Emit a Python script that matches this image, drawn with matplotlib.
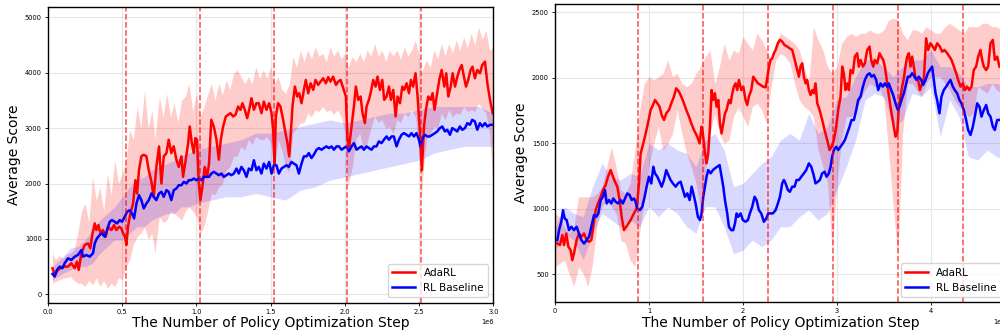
import numpy as np
import matplotlib
matplotlib.use("Agg")
import matplotlib.pyplot as plt

# -----------------------------
# Left panel data (x in millions of steps)
# -----------------------------
left_ada_x = [0.03, 0.045, 0.067, 0.10, 0.135, 0.157, 0.18, 0.195, 0.207, 0.225, 0.247, 0.27, 0.285, 0.30,
              0.315, 0.326, 0.34, 0.353, 0.37, 0.389, 0.404, 0.427, 0.445, 0.46, 0.479, 0.494, 0.506, 0.519,
              0.528, 0.539, 0.555, 0.573, 0.589, 0.60, 0.613, 0.629, 0.645, 0.663, 0.679, 0.697, 0.712, 0.73,
              0.748, 0.764, 0.78, 0.798, 0.813, 0.831, 0.847, 0.865, 0.881, 0.899, 0.91, 0.928, 0.944, 0.955,
              0.969, 0.982, 0.993, 1.004, 1.016, 1.027, 1.04, 1.056, 1.072, 1.085, 1.10, 1.117, 1.135, 1.151,
              1.164, 1.18, 1.198, 1.213, 1.229, 1.247, 1.263, 1.281, 1.297, 1.31, 1.326, 1.342, 1.355, 1.371,
              1.387, 1.404, 1.42, 1.438, 1.454, 1.472, 1.49, 1.506, 1.517, 1.526, 1.535, 1.55, 1.566, 1.584,
              1.60, 1.613, 1.625, 1.636, 1.647, 1.663, 1.679, 1.692, 1.708, 1.724, 1.737, 1.753, 1.769, 1.787,
              1.802, 1.82, 1.836, 1.854, 1.872, 1.888, 1.903, 1.921, 1.94, 1.955, 1.971, 1.989, 2.007, 2.018,
              2.029, 2.045, 2.061, 2.074, 2.09, 2.106, 2.119, 2.135, 2.146, 2.162, 2.178, 2.191, 2.207, 2.22,
              2.236, 2.252, 2.265, 2.281, 2.297, 2.31, 2.326, 2.342, 2.355, 2.371, 2.387, 2.40, 2.416, 2.432,
              2.445, 2.46, 2.476, 2.49, 2.506, 2.519, 2.533, 2.546, 2.562, 2.578, 2.591, 2.604, 2.618, 2.636,
              2.652, 2.67, 2.683, 2.697, 2.713, 2.726, 2.742, 2.758, 2.771, 2.787, 2.802, 2.816, 2.831, 2.847,
              2.86, 2.876, 2.892, 2.91, 2.926, 2.944, 2.96, 2.978, 2.996]
left_ada_y = [470, 350, 440, 500, 500, 560, 470, 590, 440, 740, 890, 920, 830, 1100,
              1280, 1160, 1250, 1100, 1160, 1040, 1220, 1160, 1250, 1160, 1220, 1190, 1100, 1040,
              890, 1220, 1460, 1640, 2060, 1820, 2240, 2490, 2520, 2490, 2240, 2030, 1760, 2300,
              2670, 2000, 2490, 2550, 2790, 2550, 2670, 2430, 2300, 2490, 2120, 2430, 2730, 3030,
              2730, 2550, 2820, 2790, 2000, 1700, 1940, 2300, 2120, 2360, 3150, 3030, 2790, 2430,
              2790, 3030, 3210, 3240, 3270, 3210, 3240, 3390, 3330, 3450, 3330, 3180, 3330, 3540,
              3330, 3450, 3450, 3270, 3480, 3330, 3450, 3270, 2970, 2360, 3210, 3450, 3390, 3150,
              2910, 2730, 2490, 2910, 3390, 3750, 3570, 3630, 3450, 3690, 3870, 3630, 3810, 3690,
              3870, 3780, 3840, 3900, 3810, 3920, 3840, 3930, 3780, 3840, 3870, 3720, 3570, 2790,
              2670, 3030, 3390, 3750, 3510, 3570, 3270, 3090, 3390, 3510, 3690, 3870, 3750, 3930,
              3690, 3870, 3510, 3570, 3750, 3510, 3690, 3210, 3570, 3450, 3750, 3690, 3810, 3630,
              3870, 3750, 3990, 3570, 2910, 2240, 3030, 3330, 3570, 3510, 3630, 3330, 3570, 3870,
              4050, 3750, 3990, 3570, 3750, 3990, 3750, 3930, 4050, 4140, 3930, 3750, 3870, 4050,
              4110, 3900, 4050, 3990, 4140, 4200, 3810, 3510, 3270]

left_base_x = [0.03, 0.045, 0.06, 0.079, 0.097, 0.112, 0.135, 0.157, 0.18, 0.202, 0.225, 0.236, 0.258, 0.281,
               0.303, 0.315, 0.33, 0.348, 0.364, 0.382, 0.398, 0.416, 0.431, 0.449, 0.465, 0.483, 0.499, 0.517,
               0.533, 0.551, 0.566, 0.58, 0.596, 0.613, 0.629, 0.645, 0.663, 0.679, 0.697, 0.712, 0.73, 0.748,
               0.764, 0.78, 0.798, 0.813, 0.831, 0.847, 0.865, 0.881, 0.899, 0.915, 0.933, 0.948, 0.966, 0.982,
               1.0, 1.016, 1.034, 1.049, 1.067, 1.085, 1.10, 1.117, 1.135, 1.151, 1.169, 1.184, 1.202, 1.218,
               1.236, 1.252, 1.27, 1.285, 1.303, 1.319, 1.337, 1.353, 1.371, 1.387, 1.404, 1.42, 1.438, 1.454,
               1.472, 1.49, 1.506, 1.521, 1.539, 1.555, 1.573, 1.589, 1.607, 1.622, 1.64, 1.656, 1.674, 1.69,
               1.708, 1.724, 1.742, 1.757, 1.775, 1.791, 1.809, 1.825, 1.843, 1.858, 1.876, 1.892, 1.91, 1.926,
               1.944, 1.96, 1.978, 1.993, 2.011, 2.027, 2.045, 2.061, 2.079, 2.094, 2.112, 2.128, 2.146, 2.162,
               2.18, 2.196, 2.213, 2.229, 2.247, 2.263, 2.281, 2.297, 2.315, 2.33, 2.348, 2.364, 2.382, 2.398,
               2.416, 2.432, 2.449, 2.465, 2.483, 2.499, 2.51, 2.524, 2.539, 2.555, 2.573, 2.589, 2.607, 2.622,
               2.64, 2.656, 2.674, 2.69, 2.708, 2.724, 2.742, 2.757, 2.775, 2.791, 2.809, 2.825, 2.843, 2.858,
               2.876, 2.892, 2.91, 2.926, 2.944, 2.96, 2.978, 2.996]
left_base_y = [367, 320, 440, 500, 470, 560, 650, 620, 680, 710, 800, 680, 710, 680,
               740, 920, 1010, 1070, 1100, 1040, 1160, 1310, 1340, 1310, 1280, 1340, 1310, 1400,
               1490, 1520, 1460, 1370, 1640, 1790, 1700, 1550, 1640, 1700, 1820, 1760, 1700, 1820,
               1850, 1760, 1880, 1850, 1700, 1880, 1910, 1970, 1970, 2030, 2000, 2060, 2060, 2090,
               2060, 2090, 2060, 2120, 2120, 2120, 2180, 2210, 2180, 2150, 2180, 2120, 2150, 2180,
               2150, 2180, 2270, 2180, 2300, 2240, 2120, 2270, 2240, 2420, 2240, 2300, 2180, 2360,
               2270, 2390, 2180, 2330, 2330, 2180, 2270, 2300, 2330, 2300, 2390, 2360, 2330, 2180,
               2360, 2490, 2490, 2550, 2460, 2520, 2610, 2640, 2610, 2640, 2670, 2640, 2670, 2610,
               2670, 2670, 2610, 2640, 2670, 2580, 2670, 2730, 2610, 2640, 2670, 2610, 2670, 2640,
               2610, 2670, 2670, 2760, 2730, 2790, 2850, 2790, 2850, 2850, 2670, 2790, 2880, 2910,
               2880, 2850, 2910, 2850, 2910, 2790, 2670, 2820, 2880, 2850, 2850, 2880, 2910, 2940,
               3000, 3030, 2940, 2970, 2880, 3000, 2970, 2940, 3030, 2970, 3000, 3090, 3060, 3150,
               3120, 2970, 3090, 3030, 3090, 3030, 3060, 3060]

left_ada_band_x = [0.03, 0.05, 0.075, 0.10, 0.125, 0.15, 0.175, 0.20, 0.225, 0.25, 0.275, 0.30, 0.325, 0.35,
                   0.375, 0.40, 0.425, 0.45, 0.475, 0.50, 0.525, 0.55, 0.575, 0.60, 0.625, 0.65, 0.675, 0.70,
                   0.72, 0.75, 0.775, 0.80, 0.825, 0.85, 0.875, 0.90, 0.925, 0.95, 0.975, 1.00, 1.025, 1.05,
                   1.075, 1.10, 1.125, 1.15, 1.175, 1.20, 1.225, 1.25, 1.275, 1.30, 1.325, 1.35, 1.375, 1.40,
                   1.425, 1.45, 1.475, 1.50, 1.525, 1.55, 1.575, 1.60, 1.625, 1.65, 1.675, 1.70, 1.725, 1.75,
                   1.775, 1.80, 1.825, 1.85, 1.875, 1.90, 1.925, 1.95, 1.975, 2.00, 2.02, 2.05, 2.075, 2.10,
                   2.125, 2.15, 2.175, 2.20, 2.225, 2.25, 2.275, 2.30, 2.325, 2.35, 2.375, 2.40, 2.425, 2.45,
                   2.475, 2.50, 2.515, 2.53, 2.55, 2.575, 2.60, 2.625, 2.65, 2.675, 2.70, 2.725, 2.75, 2.775,
                   2.80, 2.825, 2.85, 2.875, 2.90, 2.925, 2.95, 2.975, 3.00]
left_ada_hi = [740, 620, 700, 650, 720, 740, 800, 1100, 1500, 1640, 1300, 2120, 1700, 1940,
               1500, 2180, 1800, 2420, 2000, 2180, 2400, 2970, 2800, 3390, 3000, 3690, 3000, 3330,
               2800, 3570, 3200, 3630, 3200, 3450, 3100, 3510, 3570, 3810, 3300, 3630, 3200, 3390,
               3600, 3810, 3500, 3810, 3600, 3870, 3700, 3990, 4050, 3930, 3800, 3930, 3800, 4110,
               3900, 4050, 3900, 4110, 3800, 3930, 3700, 3630, 3800, 4290, 4100, 4410, 4200, 4410,
               4250, 4470, 4300, 4350, 4200, 4470, 4300, 4410, 4250, 4350, 4100, 4290, 4200, 4350,
               4200, 4410, 4300, 4530, 4300, 4410, 4200, 4410, 4300, 4410, 4250, 4470, 4300, 4410,
               4590, 4300, 4000, 4100, 4230, 4100, 4410, 4250, 4530, 4300, 4530, 4350, 4590, 4400,
               4650, 4450, 4710, 4500, 4830, 4600, 4770, 4400, 4470]
left_ada_lo = [200, 230, 260, 290, 300, 320, 250, 200, 200, 140, 250, 170, 300, 140,
               250, 110, 200, 140, 300, 260, 500, 620, 900, 1040, 1100, 1220, 1000, 1100,
               740, 1400, 1300, 1340, 1500, 1460, 1400, 1340, 1500, 1580, 1500, 1400, 1100, 1220,
               1500, 1820, 1800, 1940, 2000, 2240, 2300, 2490, 2500, 2670, 2600, 2790, 2700, 2850,
               2800, 2790, 2850, 2730, 2240, 2790, 2600, 2300, 2200, 2910, 3000, 3090, 3100, 3270,
               3200, 3330, 3300, 3390, 3300, 3330, 3250, 3330, 3200, 2910, 1940, 2300, 2800, 2910,
               2600, 2730, 3000, 3210, 3100, 3150, 3000, 3030, 2900, 3150, 3100, 3270, 3200, 3330,
               3200, 2500, 1700, 2300, 2790, 2900, 3030, 3000, 3270, 3150, 3330, 3200, 3270, 3250,
               3390, 3300, 3330, 3300, 3450, 3350, 3270, 2900, 1880]

left_base_band_x = [0.03, 0.10, 0.15, 0.20, 0.25, 0.30, 0.35, 0.40, 0.45, 0.50, 0.55, 0.60, 0.65, 0.70, 0.75,
                    0.80, 0.85, 0.90, 0.95, 1.00, 1.10, 1.20, 1.30, 1.40, 1.50, 1.60, 1.70, 1.80, 1.90, 2.00,
                    2.10, 2.20, 2.30, 2.40, 2.50, 2.60, 2.70, 2.80, 2.90, 3.00]
left_base_hi = [500, 680, 830, 860, 980, 1160, 1340, 1460, 1580, 1760, 1940, 2060, 2120, 2240, 2300,
                2360, 2420, 2490, 2550, 2610, 2670, 2730, 2790, 2910, 2910, 2970, 3030, 3090, 3150, 3090,
                3150, 3210, 3270, 3270, 3330, 3390, 3390, 3390, 3390, 3270]
left_base_lo = [260, 380, 440, 500, 500, 560, 740, 860, 980, 980, 1100, 1220, 1220, 1340, 1400,
                1460, 1460, 1580, 1580, 1640, 1700, 1760, 1760, 1820, 1760, 1700, 1880, 1940, 2060, 2120,
                2180, 2240, 2300, 2360, 2420, 2550, 2610, 2670, 2670, 2670]

left_switch_steps = [0.528, 1.025, 1.521, 2.016, 2.51]

# -----------------------------
# Right panel data (x in millions of steps)
# -----------------------------
right_ada_x = [0.025, 0.053, 0.078, 0.096, 0.12, 0.142, 0.167, 0.184, 0.202, 0.23, 0.255, 0.28, 0.309, 0.337,
               0.362, 0.387, 0.408, 0.433, 0.457, 0.486, 0.51, 0.539, 0.564, 0.592, 0.617, 0.638, 0.663, 0.688,
               0.709, 0.734, 0.77, 0.805, 0.84, 0.869, 0.894, 0.911, 0.94, 0.965, 0.989, 1.018, 1.043, 1.064,
               1.089, 1.113, 1.135, 1.16, 1.184, 1.213, 1.238, 1.266, 1.29, 1.319, 1.344, 1.372, 1.397, 1.426,
               1.45, 1.479, 1.514, 1.539, 1.56, 1.574, 1.592, 1.613, 1.631, 1.649, 1.667, 1.684, 1.702, 1.72,
               1.738, 1.755, 1.773, 1.791, 1.809, 1.826, 1.851, 1.869, 1.887, 1.904, 1.922, 1.94, 1.957, 1.982,
               2.004, 2.028, 2.046, 2.064, 2.089, 2.11, 2.135, 2.16, 2.188, 2.213, 2.241, 2.259, 2.277, 2.294,
               2.312, 2.33, 2.348, 2.372, 2.394, 2.418, 2.443, 2.472, 2.496, 2.525, 2.543, 2.56, 2.578, 2.596,
               2.613, 2.631, 2.649, 2.667, 2.684, 2.702, 2.72, 2.738, 2.755, 2.773, 2.791, 2.816, 2.844, 2.869,
               2.897, 2.922, 2.943, 2.968, 2.993, 3.014, 3.039, 3.057, 3.074, 3.092, 3.11, 3.128, 3.145, 3.17,
               3.191, 3.216, 3.234, 3.252, 3.277, 3.298, 3.323, 3.348, 3.365, 3.387, 3.404, 3.429, 3.454, 3.472,
               3.493, 3.511, 3.535, 3.56, 3.582, 3.606, 3.624, 3.642, 3.66, 3.677, 3.695, 3.713, 3.73, 3.748,
               3.766, 3.784, 3.801, 3.819, 3.837, 3.862, 3.883, 3.908, 3.926, 3.95, 3.972, 3.996, 4.021, 4.043,
               4.067, 4.096, 4.121, 4.145, 4.174, 4.199, 4.22, 4.245, 4.27, 4.291, 4.316, 4.34, 4.362, 4.387,
               4.411, 4.433, 4.457, 4.482, 4.504, 4.528, 4.546, 4.564, 4.589, 4.61, 4.635, 4.66, 4.681, 4.706,
               4.73, 4.78]
right_ada_y = [734, 722, 798, 722, 811, 709, 683, 607, 658, 760, 811, 785, 811, 760,
               747, 760, 862, 989, 1040, 1091, 1142, 1180, 1244, 1295, 1244, 1206, 1168, 1066,
               938, 836, 874, 913, 964, 1002, 1193, 1422, 1499, 1575, 1652, 1754, 1792, 1830,
               1805, 1779, 1715, 1677, 1728, 1754, 1805, 1856, 1919, 1894, 1856, 1805, 1754, 1703,
               1652, 1601, 1550, 1499, 1626, 1575, 1448, 1346, 1422, 1626, 1906, 1830, 1881, 1779,
               1830, 1652, 1575, 1652, 1728, 1754, 1830, 1805, 1881, 1932, 1957, 1906, 1983, 1906,
               1932, 1830, 1792, 1856, 1906, 2008, 1983, 1957, 1945, 1932, 1927, 1996, 2085, 2136,
               2149, 2187, 2212, 2263, 2289, 2276, 2250, 2238, 2225, 2212, 2161, 2110, 2059, 2008,
               2085, 2110, 2008, 1957, 1983, 1906, 1868, 1906, 1881, 1957, 1805, 1754, 1677, 1601,
               1524, 1448, 1473, 1524, 1626, 1754, 1856, 2085, 2034, 1906, 1957, 1906, 2059, 2034,
               2161, 2187, 2085, 2136, 2085, 2110, 2212, 2238, 2136, 2085, 2136, 2110, 2187, 2161,
               2136, 2085, 1957, 1830, 1728, 1626, 1550, 1575, 1779, 1856, 1932, 1996, 2085, 2161,
               2187, 2085, 2161, 2085, 1996, 1996, 1906, 1957, 1996, 2301, 2212, 2263, 2238, 2212,
               2263, 2238, 2199, 2212, 2187, 2161, 2136, 2085, 2034, 1983, 1932, 1957, 1906, 1932,
               1906, 1932, 2059, 2085, 2161, 2212, 2136, 2085, 2059, 2085, 2263, 2289, 2136, 2161,
               2085, 2060]

right_base_x = [0.025, 0.043, 0.067, 0.085, 0.103, 0.124, 0.149, 0.174, 0.202, 0.23, 0.255, 0.28, 0.309, 0.337,
                0.362, 0.387, 0.415, 0.44, 0.461, 0.486, 0.51, 0.532, 0.55, 0.574, 0.599, 0.621, 0.645, 0.67,
                0.699, 0.723, 0.745, 0.77, 0.794, 0.816, 0.84, 0.858, 0.876, 0.904, 0.929, 0.954, 0.975, 1.0,
                1.025, 1.046, 1.064, 1.089, 1.113, 1.135, 1.16, 1.184, 1.206, 1.23, 1.255, 1.284, 1.309, 1.337,
                1.362, 1.383, 1.408, 1.433, 1.454, 1.472, 1.496, 1.521, 1.543, 1.56, 1.578, 1.596, 1.613, 1.631,
                1.656, 1.681, 1.702, 1.727, 1.752, 1.773, 1.791, 1.809, 1.833, 1.851, 1.876, 1.897, 1.915, 1.933,
                1.95, 1.975, 2.0, 2.028, 2.053, 2.074, 2.099, 2.124, 2.145, 2.17, 2.195, 2.223, 2.248, 2.27,
                2.294, 2.319, 2.348, 2.372, 2.394, 2.418, 2.436, 2.454, 2.479, 2.5, 2.525, 2.55, 2.571, 2.596,
                2.621, 2.649, 2.674, 2.702, 2.727, 2.748, 2.773, 2.798, 2.819, 2.844, 2.869, 2.89, 2.915, 2.933,
                2.95, 2.968, 2.993, 3.014, 3.039, 3.064, 3.085, 3.11, 3.135, 3.156, 3.181, 3.206, 3.227, 3.252,
                3.277, 3.298, 3.323, 3.348, 3.369, 3.394, 3.418, 3.44, 3.465, 3.489, 3.511, 3.535, 3.553, 3.578,
                3.599, 3.624, 3.649, 3.667, 3.688, 3.713, 3.73, 3.755, 3.777, 3.801, 3.826, 3.847, 3.872, 3.897,
                3.918, 3.943, 3.968, 3.989, 4.014, 4.032, 4.05, 4.067, 4.092, 4.113, 4.138, 4.163, 4.184, 4.209,
                4.234, 4.255, 4.28, 4.305, 4.326, 4.351, 4.376, 4.397, 4.422, 4.447, 4.468, 4.493, 4.518, 4.539,
                4.564, 4.589, 4.61, 4.635, 4.66, 4.681, 4.706, 4.73, 4.78]
right_base_y = [760, 836, 900, 989, 925, 913, 836, 862, 836, 862, 811, 760, 734, 760,
                785, 862, 951, 938, 964, 1066, 1091, 1142, 1040, 1066, 1040, 1078, 1053, 1040,
                1066, 1040, 1078, 1117, 1104, 1066, 1078, 1053, 1002, 989, 1015, 1091, 1168, 1244,
                1193, 1320, 1270, 1244, 1206, 1168, 1219, 1295, 1257, 1219, 1193, 1168, 1193, 1206,
                1142, 1091, 1117, 1066, 1168, 1117, 1040, 938, 913, 964, 1091, 1168, 1244, 1295,
                1270, 1295, 1308, 1320, 1333, 1244, 1168, 1066, 964, 862, 836, 836, 887, 964,
                938, 964, 913, 900, 913, 964, 1015, 1091, 1066, 989, 964, 900, 925, 964,
                964, 964, 989, 1040, 1091, 1193, 1219, 1193, 1142, 1129, 1168, 1168, 1219, 1219,
                1244, 1270, 1295, 1346, 1320, 1270, 1193, 1206, 1219, 1270, 1282, 1244, 1270, 1320,
                1397, 1448, 1473, 1448, 1473, 1499, 1524, 1575, 1626, 1677, 1677, 1754, 1830, 1856,
                1932, 1983, 2021, 2034, 2008, 2021, 1983, 1906, 1957, 1932, 1957, 1932, 1957, 1906,
                1868, 1805, 1754, 1779, 1830, 1881, 1932, 2008, 2008, 2034, 2008, 1983, 2008, 1983,
                1945, 1983, 2034, 2059, 2085, 1983, 1881, 1830, 1728, 1856, 1906, 1932, 1957, 1983,
                1932, 1906, 1881, 1830, 1805, 1754, 1677, 1601, 1563, 1626, 1703, 1805, 1779, 1703,
                1754, 1792, 1728, 1703, 1626, 1601, 1677, 1677, 1700]

right_ada_band_x = [0.0, 0.05, 0.10, 0.15, 0.20, 0.25, 0.30, 0.35, 0.40, 0.45, 0.50, 0.55, 0.60, 0.65, 0.70,
                    0.75, 0.80, 0.85, 0.90, 0.95, 1.00, 1.05, 1.10, 1.15, 1.20, 1.25, 1.30, 1.35, 1.40, 1.45,
                    1.50, 1.55, 1.60, 1.65, 1.70, 1.75, 1.80, 1.85, 1.90, 1.95, 2.00, 2.05, 2.10, 2.15, 2.20,
                    2.25, 2.30, 2.35, 2.40, 2.45, 2.50, 2.55, 2.60, 2.65, 2.70, 2.75, 2.80, 2.85, 2.90, 2.95,
                    3.00, 3.05, 3.10, 3.15, 3.20, 3.25, 3.30, 3.35, 3.40, 3.45, 3.50, 3.55, 3.60, 3.65, 3.70,
                    3.75, 3.80, 3.85, 3.90, 3.95, 4.00, 4.05, 4.10, 4.15, 4.20, 4.25, 4.30, 4.35, 4.40, 4.45,
                    4.50, 4.55, 4.60, 4.65, 4.70, 4.75, 4.80]
right_ada_hi = [964, 938, 862, 811, 862, 1091, 1091, 1091, 1091, 1117, 1168, 1320, 1473, 1320, 1142,
                1117, 1193, 1448, 1754, 1957, 2008, 1983, 2008, 2034, 2136, 2008, 2034, 1957, 1932, 1957,
                2034, 2085, 2161, 2212, 1957, 2085, 2263, 2136, 2212, 2187, 2314, 2263, 2212, 2340, 2289,
                2212, 2136, 2263, 2340, 2314, 2289, 2263, 2212, 2085, 1957, 2390, 2289, 2212, 2085, 2034,
                2085, 2263, 2314, 2340, 2314, 2340, 2340, 2365, 2340, 2340, 2365, 2441, 2454, 2441, 2340,
                2289, 2365, 2365, 2340, 2390, 2365, 2340, 2340, 2390, 2416, 2390, 2365, 2340, 2390, 2390,
                2390, 2416, 2416, 2390, 2390, 2365, 2365]
right_ada_lo = [556, 582, 607, 505, 403, 556, 505, 403, 582, 887, 1015, 1066, 1015, 964, 760,
                734, 607, 556, 811, 1066, 1320, 1499, 1626, 1448, 1499, 1575, 1754, 1575, 1422, 1320,
                1193, 989, 1270, 1575, 1728, 1575, 1499, 1524, 1703, 1779, 1703, 1626, 1779, 1805, 1754,
                1652, 1932, 2136, 2187, 2161, 2110, 1957, 1830, 1779, 1754, 1703, 1448, 1320, 1193, 683,
                1193, 1524, 1703, 1703, 1754, 1830, 1906, 1957, 1932, 1932, 1830, 1448, 1015, 632, 1575,
                1957, 1957, 1906, 1856, 1957, 2008, 2008, 2008, 1957, 1906, 1830, 1779, 1754, 1703, 1728,
                1932, 1906, 1881, 1957, 1906, 1881, 1881]

right_base_band_x = [0.0, 0.1, 0.2, 0.3, 0.4, 0.5, 0.6, 0.7, 0.8, 0.9, 1.0, 1.1, 1.2, 1.3, 1.4,
                     1.5, 1.6, 1.7, 1.8, 1.9, 2.0, 2.1, 2.2, 2.3, 2.4, 2.5, 2.6, 2.7, 2.8, 2.9,
                     3.0, 3.1, 3.2, 3.3, 3.4, 3.5, 3.6, 3.7, 3.8, 3.9, 4.0, 4.1, 4.2, 4.3, 4.4,
                     4.5, 4.6, 4.7, 4.8]
right_base_hi = [862, 1015, 964, 938, 1168, 1346, 1244, 1219, 1270, 1244, 1499, 1448, 1499, 1448, 1422,
                 1320, 1524, 1575, 1448, 1168, 1193, 1270, 1346, 1397, 1524, 1575, 1524, 1728, 1575, 1626,
                 1830, 1856, 2008, 2136, 2136, 2085, 2008, 2085, 2136, 2136, 2212, 2085, 2085, 2034, 1932,
                 1932, 1957, 1957, 1932]
right_base_lo = [683, 811, 760, 607, 811, 964, 913, 862, 913, 862, 1015, 938, 1015, 964, 862,
                 811, 1015, 1015, 862, 658, 683, 760, 709, 760, 862, 862, 938, 989, 913, 964,
                 1142, 1320, 1524, 1830, 1881, 1856, 1626, 1677, 1881, 1856, 1932, 1550, 1830, 1703, 1397,
                 1371, 1448, 1397, 1371]

right_switch_steps = [0.879, 1.574, 2.266, 2.961, 3.652, 4.344]

# -----------------------------
# Plot
# -----------------------------
fig = plt.figure(figsize=(10, 3.35), dpi=100)
ax_l = fig.add_axes([0.048, 0.097, 0.4453, 0.882])
ax_r = fig.add_axes([0.555, 0.098, 0.451, 0.890])

panels = [
    (ax_l, left_ada_x, left_ada_y, left_base_x, left_base_y,
     left_ada_band_x, left_ada_lo, left_ada_hi, left_base_band_x, left_base_lo, left_base_hi,
     left_switch_steps, (0, 3.0e6), (-148, 5186)),
    (ax_r, right_ada_x, right_ada_y, right_base_x, right_base_y,
     right_ada_band_x, right_ada_lo, right_ada_hi, right_base_band_x, right_base_lo, right_base_hi,
     right_switch_steps, (0, 4.8e6), (286, 2563)),
]

for (ax, ax_x, ax_y, bx, by, abx, alo, ahi, bbx, blo, bhi, sw, xl, yl) in panels:
    M = 1e6
    ax.fill_between(np.array(abx) * M, alo, ahi, color="#ff0000", alpha=0.2, lw=0)
    ax.fill_between(np.array(bbx) * M, blo, bhi, color="#0000ff", alpha=0.15, lw=0)
    ax.plot(np.array(ax_x) * M, ax_y, color="#ff0000", lw=1.8, label="AdaRL")
    ax.plot(np.array(bx) * M, by, color="#0000ff", lw=1.8, label="RL Baseline")
    for s in sw:
        ax.axvline(s * M, color="#ff0000", ls="--", lw=1.1, alpha=0.7)

    ax.set_xlim(*xl)
    ax.set_ylim(*yl)
    ax.grid(True, color="#e6e6e6", lw=0.8)
    ax.set_axisbelow(True)
    ax.tick_params(labelsize=4.8, length=2.5, width=0.6, pad=2)
    ax.xaxis.get_offset_text().set_fontsize(4.8)
    ax.set_xlabel("The Number of Policy Optimization Step", fontsize=10, labelpad=1)
    ax.set_ylabel("Average Score", fontsize=10, labelpad=3)
    for sp in ax.spines.values():
        sp.set_linewidth(1.0)
    ax.legend(loc="lower right", fontsize=7.5, handlelength=2.2, framealpha=0.8)

ax_r.set_yticks([500, 1000, 1500, 2000, 2500])

fig.savefig("out.png", dpi=100)
